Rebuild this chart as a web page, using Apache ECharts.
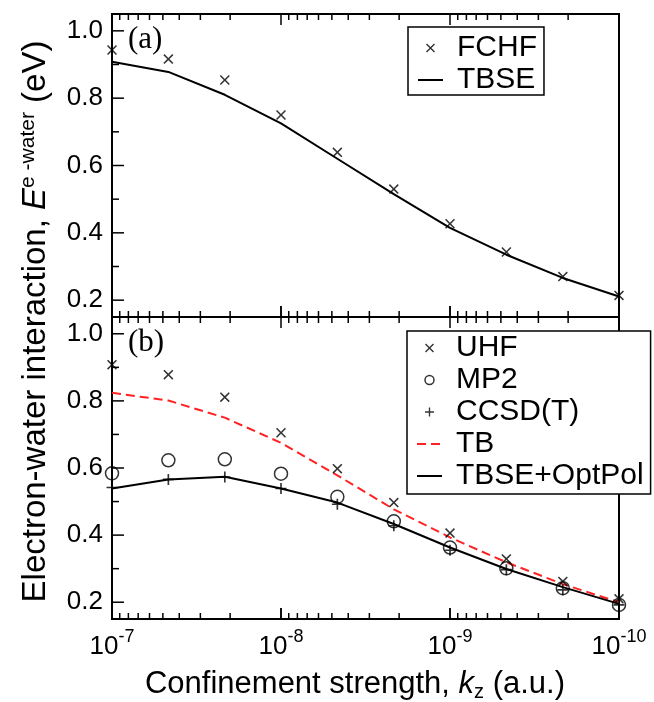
<!DOCTYPE html>
<html>
<head>
<meta charset="utf-8">
<script src="https://cdn.jsdelivr.net/npm/echarts@6/dist/echarts.min.js"></script>
<style>
html,body{margin:0;padding:0;background:#fff}
#wrap{position:relative;width:654px;height:702px}
#c{width:654px;height:702px}
.ov{position:absolute;color:#000;white-space:nowrap;line-height:1}
</style>
</head>
<body>
<div id="wrap"><div id="c"></div></div>
<script>
// ---- data ----
const kz = [1e-7, 4.64e-8, 2.15e-8, 1e-8, 4.64e-9, 2.15e-9, 1e-9, 4.64e-10, 2.15e-10, 1e-10];
// panel (a)
const fchf = [0.943, 0.916, 0.854, 0.750, 0.639, 0.530, 0.427, 0.343, 0.270, 0.214];
const tbse = [0.908, 0.878, 0.810, 0.725, 0.620, 0.515, 0.415, 0.335, 0.266, 0.211];
// panel (b)
const uhf = [0.908, 0.878, 0.811, 0.705, 0.598, 0.497, 0.406, 0.329, 0.262, 0.210];
const mp2 = [0.584, 0.623, 0.626, 0.583, 0.514, 0.441, 0.363, 0.301, 0.242, 0.192];
const ccsdt = [0.542, 0.566, 0.573, 0.539, 0.492, 0.428, 0.355, 0.297, 0.237, 0.192];
const tb = [0.824, 0.801, 0.750, 0.675, 0.578, 0.477, 0.393, 0.319, 0.254, 0.200];
const tbseOptPol = [0.539, 0.566, 0.574, 0.539, 0.497, 0.433, 0.363, 0.299, 0.245, 0.195];

// ---- ticks ----
const xMajor = [1e-7, 1e-8, 1e-9, 1e-10];
const xMinor = [9e-8, 8e-8, 7e-8, 6e-8, 5e-8, 4e-8, 3e-8, 2e-8,
                9e-9, 8e-9, 7e-9, 6e-9, 5e-9, 4e-9, 3e-9, 2e-9,
                9e-10, 8e-10, 7e-10, 6e-10, 5e-10, 4e-10, 3e-10, 2e-10];
const yMajor = [0.2, 0.4, 0.6, 0.8, 1.0];
const yMinor = [0.3, 0.5, 0.7, 0.9];
const yRange = [0.15, 1.05];
const xLeft = xMajor[0], xRight = xMajor[xMajor.length - 1];

const FONT = '"Liberation Sans", Arial, Helvetica, sans-serif';
const SERIF = '"Liberation Serif", "Times New Roman", serif';
const X_PATH = 'path://M0,1.1L1.1,0L5,3.9L8.9,0L10,1.1L6.1,5L10,8.9L8.9,10L5,6.1L1.1,10L0,8.9L3.9,5Z';
const PLUS_PATH = 'path://M4.25,0H5.75V4.25H10V5.75H5.75V10H4.25V5.75H0V4.25H4.25Z';

const PL = 112, PW = 507;
const pairs = (ys) => kz.map((k, i) => [k, ys[i]]);
const AXIS_LINE = { show: true, onZero: false, lineStyle: { color: '#000', width: 2 } };

function xAxisDef(gi, withLabels) {
  const a = {
    type: 'log', logBase: 10, gridIndex: gi, position: 'bottom', inverse: true,
    min: xRight, max: xLeft,
    axisLine: AXIS_LINE,
    splitLine: { show: false }, minorTick: { show: false }, minorSplitLine: { show: false },
    axisTick: { show: true, inside: true, length: 11, lineStyle: { color: '#000', width: 1.5 } },
    axisLabel: { show: false }
  };
  if (withLabels) {
    a.axisLabel = {
      show: true, customValues: xMajor, margin: 9,
      formatter: v => '{b|10}{s|' + Math.round(Math.log10(v)) + '}',
      rich: {
        b: { fontSize: 26, fontFamily: FONT, color: '#000', lineHeight: 26, padding: [11, 0, 0, 0] },
        s: { fontSize: 18, fontFamily: FONT, color: '#000', lineHeight: 18, verticalAlign: 'top' }
      }
    };
    a.name = 'Confinement strength, {i|k}{sub|z} (a.u.)';
    a.nameLocation = 'middle';
    a.nameGap = 47;
    a.nameTextStyle = {
      fontSize: 31, fontFamily: FONT, color: '#000', lineHeight: 36, padding: [0, 21, 0, 0],
      rich: {
        i: { fontSize: 31, fontFamily: FONT, fontStyle: 'italic', color: '#000', lineHeight: 36 },
        sub: { fontSize: 20, fontFamily: FONT, color: '#000', lineHeight: 20, verticalAlign: 'bottom' }
      }
    };
  }
  return a;
}

const yAxisDef = (gi) => ({
  type: 'value', gridIndex: gi, position: 'left', min: yRange[0], max: yRange[1],
  axisLine: AXIS_LINE, splitLine: { show: false }, axisTick: { show: false },
  axisLabel: { show: true, customValues: yMajor, margin: 9, fontSize: 26, fontFamily: FONT, color: '#000',
               formatter: v => v.toFixed(1) }
});

// inward x tick marks (bottom and top edges) through the axes' scales
function xTickSeries(ai, vals, len) {
  return {
    type: 'custom', xAxisIndex: ai, yAxisIndex: ai, silent: true, z: 6, clip: false,
    data: vals.map(v => [v, yRange[0]]),
    renderItem: (params, api) => {
      const v = api.value(0);
      const b = api.coord([v, yRange[0]]);
      const t = api.coord([v, yRange[1]]);
      const st = { stroke: '#000', lineWidth: 1.5 };
      return { type: 'group', children: [
        { type: 'line', shape: { x1: b[0], y1: b[1], x2: b[0], y2: b[1] - len }, style: st },
        { type: 'line', shape: { x1: t[0], y1: t[1], x2: t[0], y2: t[1] + len }, style: st }
      ] };
    }
  };
}
// inward y tick marks on the left edge
function yTickSeries(ai, vals, len) {
  return {
    type: 'custom', xAxisIndex: ai, yAxisIndex: ai, silent: true, z: 6, clip: false,
    data: vals.map(v => [xLeft, v]),
    renderItem: (params, api) => {
      const v = api.value(1);
      const l = api.coord([xLeft, v]);
      return { type: 'group', children: [
        { type: 'line', shape: { x1: l[0], y1: l[1], x2: l[0] + len, y2: l[1] },
          style: { stroke: '#000', lineWidth: 1.5 } }
      ] };
    }
  };
}

const legendText = { fontSize: 30, fontFamily: FONT, color: '#000', padding: [0, 0, 0, 9] };
const legendCommon = {
  orient: 'vertical', itemWidth: 25, itemHeight: 9, itemGap: 2, selectedMode: false,
  borderColor: '#000', borderWidth: 1.5, backgroundColor: '#fff', borderRadius: 0,
  textStyle: legendText, z: 10
};

const lineSeries = (name, xi, yi, ys, color, type) => ({
  name, type: 'line', xAxisIndex: xi, yAxisIndex: yi, data: pairs(ys),
  symbol: 'none', smooth: false,
  lineStyle: { color, width: 2, type: type || 'solid' },
  itemStyle: { color: 'rgba(0,0,0,0)' }, z: 2
});
const scatterSeries = (name, xi, yi, ys, symbol, size, itemStyle) => ({
  name, type: 'scatter', xAxisIndex: xi, yAxisIndex: yi, data: pairs(ys),
  symbol, symbolSize: size, itemStyle, z: 3
});

const dataGrid = (top, height) => ({ left: PL, width: PW, top, height, show: true,
  borderColor: '#000', borderWidth: 2, backgroundColor: 'transparent', outerBoundsMode: 'none' });

const Y_TITLE = '{n|Electron-water interaction, }{i|E}{s|e -water}{n| (eV)}';

function buildOption(withTitle, withNameGrid) {
  const grid = [dataGrid(14, 303), dataGrid(317, 302)];
  const xAxis = [xAxisDef(0, false), xAxisDef(1, true)];
  const yAxis = [yAxisDef(0), yAxisDef(1)];
  if (withNameGrid) {
    grid.push({ left: PL, width: PW, top: 23, height: 597, show: false, outerBoundsMode: 'none' });
    xAxis.push({ type: 'value', gridIndex: 2, show: false, min: 0, max: 1 });
    yAxis.push({ type: 'value', gridIndex: 2, position: 'left', min: 0, max: 1,
      axisLine: { show: false }, axisTick: { show: false }, axisLabel: { show: false }, splitLine: { show: false },
      name: Y_TITLE, nameLocation: 'middle', nameGap: 58,
      nameTextStyle: {
        fontSize: 33, fontFamily: FONT, color: '#000', lineHeight: 36,
        rich: {
          n: { fontSize: 33, fontFamily: FONT, color: '#000', lineHeight: 36 },
          i: { fontSize: 33, fontFamily: FONT, fontStyle: 'italic', color: '#000', lineHeight: 36 },
          s: { fontSize: 21, fontFamily: FONT, color: '#000', lineHeight: 21, verticalAlign: 'top' }
        }
      } });
  }
  const opt = {
    animation: false,
    backgroundColor: '#fff',
    grid, xAxis, yAxis,
    legend: [
      Object.assign({}, legendCommon, { left: 408, top: 27, padding: [6, 7, 0, 9], data: ['FCHF', 'TBSE'] }),
      Object.assign({}, legendCommon, { left: 407, top: 331, padding: [2, 7, 3, 9],
        data: ['UHF', { name: 'MP2', itemStyle: { color: 'rgba(0,0,0,0)', borderColor: '#000', borderWidth: 1.5 } },
               'CCSD(T)', 'TB', 'TBSE+OptPol'] })
    ],
    series: [
      xTickSeries(0, xMajor, 11), xTickSeries(0, xMinor, 6),
      xTickSeries(1, xMajor, 11), xTickSeries(1, xMinor, 6),
      yTickSeries(0, yMajor, 12), yTickSeries(0, yMinor, 7),
      yTickSeries(1, yMajor, 12), yTickSeries(1, yMinor, 7),
      lineSeries('TBSE', 0, 0, tbse, '#000'),
      scatterSeries('FCHF', 0, 0, fchf, X_PATH, 10, { color: '#000' }),
      lineSeries('TB', 1, 1, tb, '#f22', [9, 5]),
      lineSeries('TBSE+OptPol', 1, 1, tbseOptPol, '#000'),
      scatterSeries('UHF', 1, 1, uhf, X_PATH, 10, { color: '#000' }),
      scatterSeries('MP2', 1, 1, mp2, 'circle', 13, { color: 'rgba(0,0,0,0)', borderColor: '#000', borderWidth: 1.5 }),
      scatterSeries('CCSD(T)', 1, 1, ccsdt, PLUS_PATH, 11, { color: '#000' })
    ]
  };
  if (withTitle) {
    opt.title = [
      { text: '(a)', left: 128, top: 24, padding: 0,
        textStyle: { fontFamily: SERIF, fontSize: 31, fontWeight: 'normal', color: '#000', lineHeight: 32 } },
      { text: '(b)', left: 128, top: 327, padding: 0,
        textStyle: { fontFamily: SERIF, fontSize: 31, fontWeight: 'normal', color: '#000', lineHeight: 32 } }
    ];
  }
  return opt;
}

// check that the tick marks actually reached the canvas
function ticksVisible(chart) {
  try {
    const canvas = chart.getDom().querySelector('canvas');
    const ctx = canvas.getContext('2d');
    const dark = (x, y) => {
      const d = ctx.getImageData(Math.floor(x) - 1, Math.floor(y) - 1, 3, 3).data;
      for (let i = 0; i < d.length; i += 4) {
        if (d[i + 3] > 0 && (d[i] + d[i + 1] + d[i + 2]) / 3 < 150) return true;
      }
      return false;
    };
    const p = chart.convertToPixel({ xAxisIndex: 0, yAxisIndex: 0 }, [xMinor[7], yRange[0]]);
    const q = chart.convertToPixel({ xAxisIndex: 0, yAxisIndex: 0 }, [xLeft, yMajor[2]]);
    return dark(p[0], p[1] - 4) || dark(q[0] + 8, q[1]);
  } catch (e) { return true; }
}

function addOverlay(html, css) {
  const d = document.createElement('div');
  d.className = 'ov';
  d.innerHTML = html;
  Object.assign(d.style, css);
  document.getElementById('wrap').appendChild(d);
}

const chart = echarts.init(document.getElementById('c'), null, { renderer: 'canvas', width: 654, height: 702 });
const attempts = [[true, true], [false, true], [false, false]];
let used = null;
for (const [t, n] of attempts) {
  chart.setOption(buildOption(t, n), true);
  if (ticksVisible(chart)) { used = [t, n]; break; }
}
if (!used) { used = [true, true]; chart.setOption(buildOption(true, true), true); }
if (!used[0]) {
  addOverlay('(a)', { left: '128px', top: '25px', font: '31px ' + SERIF });
  addOverlay('(b)', { left: '128px', top: '328px', font: '31px ' + SERIF });
}
if (!used[1]) {
  addOverlay('Electron-water interaction, <i>E</i><sup style="font-size:21px;vertical-align:10px">e -water</sup> (eV)',
    { left: '36px', top: '321px', font: '33px ' + FONT, transform: 'translate(-50%,-50%) rotate(-90deg)' });
}
</script>
</body>
</html>
